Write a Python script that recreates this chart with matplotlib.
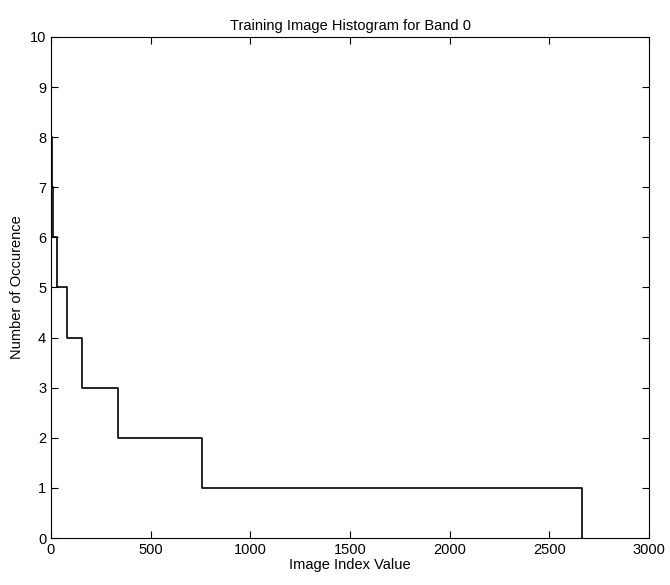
import matplotlib
matplotlib.use("Agg")
import matplotlib.pyplot as plt

# histogram counts (sorted) and the index where each count level ends
counts = [12, 9, 8, 7, 6, 5, 4, 3, 2, 1, 0]
edges = [0, 1, 2, 3, 12, 32, 78, 157, 336, 758, 2665]

plt.rcParams['font.family'] = ['Liberation Sans', 'DejaVu Sans']

fig = plt.figure(figsize=(6.7, 5.85), dpi=100)
ax = fig.add_axes([0.0761, 0.0803, 0.8926, 0.8565])
ax.step(edges, counts, where="post", color="black", linewidth=1.2)

ax.set_xlim(0, 3000)
ax.set_ylim(0, 10)
ax.set_xticks(range(0, 3001, 500))
ax.set_yticks(range(0, 11))
ax.tick_params(direction="in", top=True, right=True, length=5, labelsize=10.5)
ax.set_title("Training Image Histogram for Band 0", fontsize=10.5, pad=5)
ax.set_xlabel("Image Index Value", fontsize=10.5, labelpad=1)
ax.set_ylabel("Number of Occurence", fontsize=10.5, labelpad=4)

fig.savefig("out.png", dpi=100)
